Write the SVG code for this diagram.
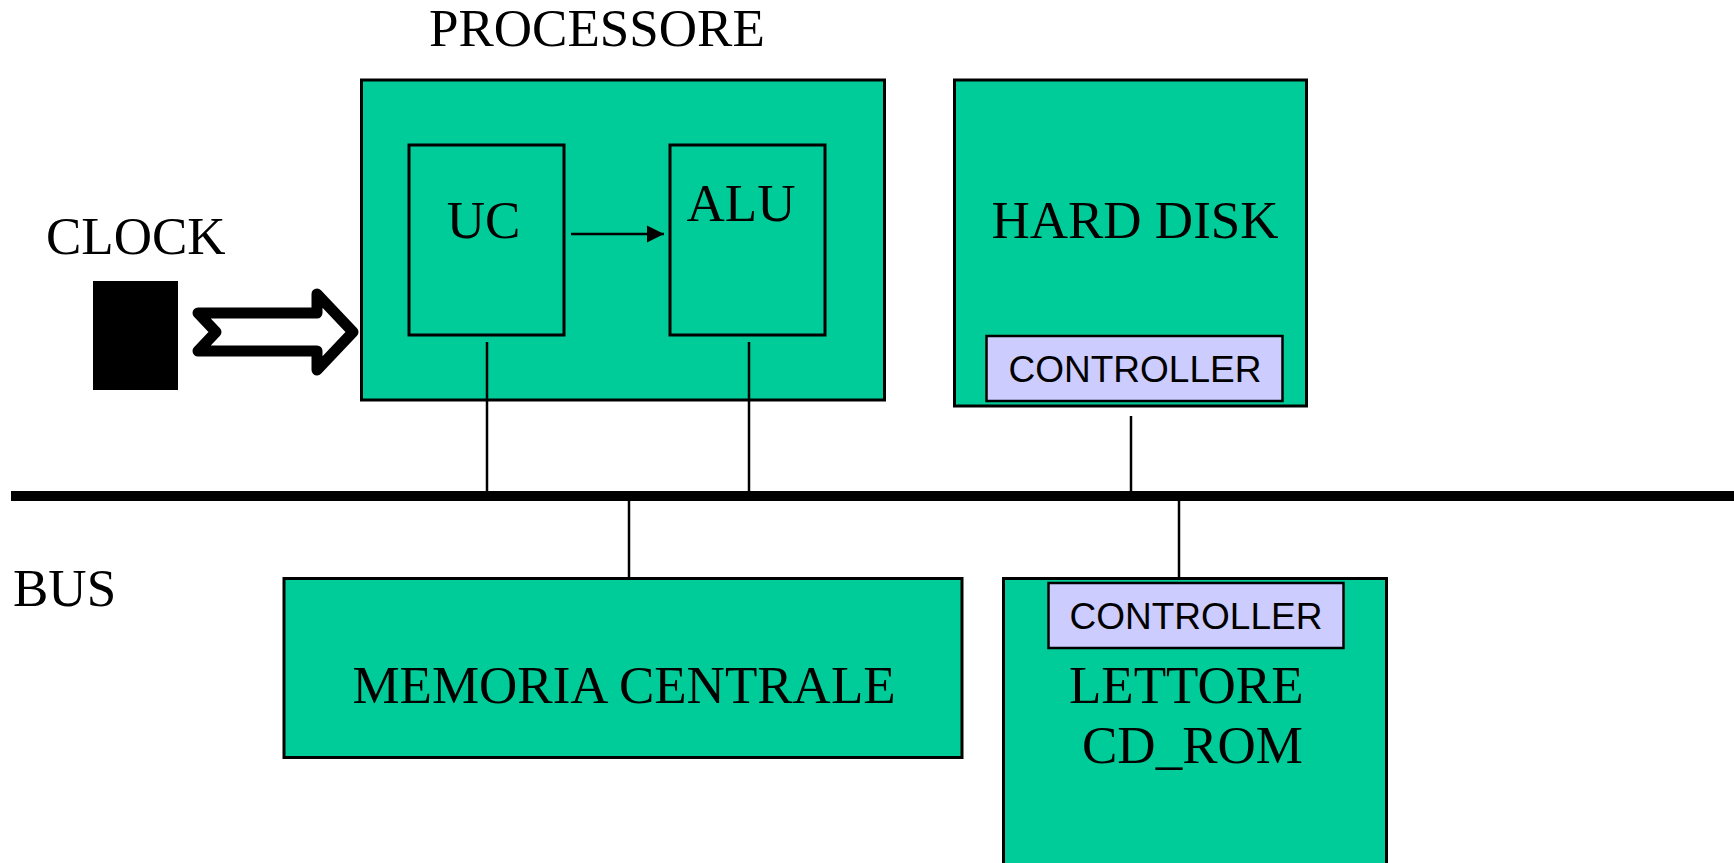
<svg xmlns="http://www.w3.org/2000/svg" width="1734" height="863" viewBox="0 0 1734 863">
<style>
.box{fill:#00CC99;stroke:#000;stroke-width:3}
.inner{fill:none;stroke:#000;stroke-width:3}
.ctrl{fill:#CCCCFF;stroke:#000;stroke-width:2.5}
.t{font-family:"Liberation Serif","Times New Roman",serif;font-size:53px;fill:#000}
.a{font-family:"Liberation Sans",Arial,sans-serif;font-size:37px;fill:#000;text-anchor:middle}
.ln{stroke:#000;stroke-width:2.5;fill:none}
</style>
<defs>
<marker id="ah" viewBox="0 0 10 10" refX="10" refY="5" markerWidth="7" markerHeight="7" markerUnits="strokeWidth" orient="auto">
<path d="M0,0 L10,5 L0,10 z" fill="#000"/>
</marker>
</defs>
<rect width="1734" height="863" fill="#fff"/>
<g id="processore">
<text class="t" x="429" y="46">PROCESSORE</text>
<rect class="box" x="361.5" y="80" width="523" height="320"/>
</g>
<g id="uc">
<rect class="inner" x="409" y="145" width="155" height="190"/>
<text class="t" x="483.5" y="238" text-anchor="middle">UC</text>
</g>
<g id="alu">
<rect class="inner" x="670" y="145" width="155" height="190"/>
<text class="t" x="741" y="221" text-anchor="middle">ALU</text>
</g>
<g id="clock">
<text class="t" x="46" y="254">CLOCK</text>
<rect x="93" y="281" width="85" height="109" fill="#000"/>
<polygon points="198,313 317,313 317,294 353,332 317,370 317,351 198,351 216,332" fill="#fff" stroke="#000" stroke-width="11" stroke-linejoin="round"/>
</g>
<g id="harddisk">
<rect class="box" x="954.5" y="80" width="352" height="326"/>
<text class="t" x="1135" y="238" text-anchor="middle">HARD DISK</text>
<rect class="ctrl" x="986.5" y="336" width="296" height="65"/>
<text class="a" x="1135" y="382">CONTROLLER</text>
</g>
<g id="memoria">
<rect class="box" x="284" y="578.5" width="678" height="179"/>
<text class="t" x="624" y="703" text-anchor="middle">MEMORIA CENTRALE</text>
</g>
<g id="cdrom">
<rect class="box" x="1003.5" y="578.5" width="383" height="300"/>
<rect class="ctrl" x="1048.5" y="583" width="295" height="65"/>
<text class="a" x="1196" y="629">CONTROLLER</text>
<text class="t" x="1069" y="703">LETTORE</text>
<text class="t" x="1082" y="763">CD_ROM</text>
</g>
<g id="bus">
<text class="t" x="13" y="606">BUS</text>
<rect x="11" y="491" width="1723" height="10" fill="#000"/>
</g>
<g id="connectors">
<line class="ln" x1="571" y1="234" x2="664" y2="234" marker-end="url(#ah)"/>
<line class="ln" x1="487" y1="342" x2="487" y2="492"/>
<line class="ln" x1="749" y1="342" x2="749" y2="492"/>
<line class="ln" x1="1131" y1="416" x2="1131" y2="492"/>
<line class="ln" x1="629" y1="500" x2="629" y2="578"/>
<line class="ln" x1="1179" y1="500" x2="1179" y2="578"/>
</g>
</svg>
